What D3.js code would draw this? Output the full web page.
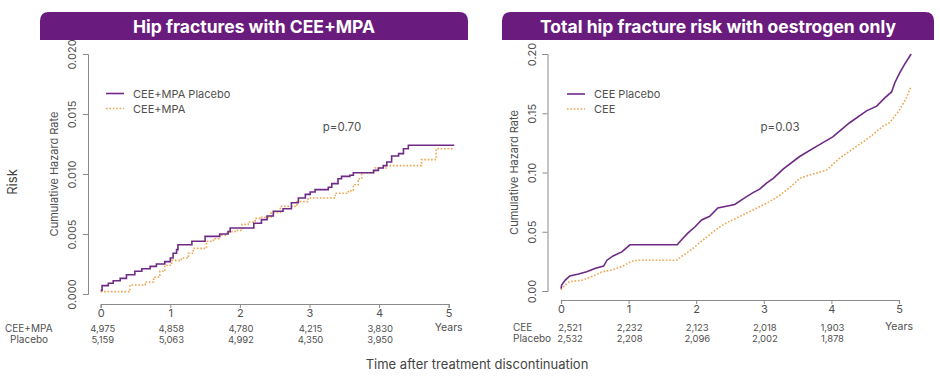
<!DOCTYPE html>
<html>
<head>
<meta charset="utf-8">
<script src="https://cdn.jsdelivr.net/npm/d3@7"></script>
<style>
  body { margin: 0; background: #fff; }
  svg { display: block; font-family: Inter, "Noto Sans", sans-serif; }
</style>
</head>
<body>
<svg id="chart" width="940" height="390"></svg>
<script>
// ---------------- DATA ----------------
const yearTicks = [0, 1, 2, 3, 4, 5];
const leftTitle = "Hip fractures with CEE+MPA";
const rightTitle = "Total hip fracture risk with oestrogen only";
const leftYTicks = [0, 0.005, 0.01, 0.015, 0.02];
const rightYTicks = [0, 0.05, 0.1, 0.15, 0.2];
const leftLegend = ["CEE+MPA Placebo", "CEE+MPA"];
const rightLegend = ["CEE Placebo", "CEE"];
const leftPValue = "p=0.70";
const rightPValue = "p=0.03";
const leftRowLabels = ["CEE+MPA", "Placebo"];
const rightRowLabels = ["CEE", "Placebo"];
const leftAtRiskTreat = ["4,975", "4,858", "4,780", "4,215", "3,830"];
const leftAtRiskPlacebo = ["5,159", "5,063", "4,992", "4,350", "3,950"];
const rightAtRiskTreat = ["2,521", "2,232", "2,123", "2,018", "1,903"];
const rightAtRiskPlacebo = ["2,532", "2,208", "2,096", "2,002", "1,878"];

// [years, cumulative hazard]
const leftPlacebo = [
  [0, 0.0003], [0.02, 0.0007], [0.11, 0.0009], [0.18, 0.0011], [0.28, 0.0013], [0.37, 0.0016],
  [0.49, 0.0019], [0.59, 0.0021], [0.71, 0.0023], [0.80, 0.0025], [0.92, 0.0027], [1.0, 0.0030],
  [1.04, 0.0034], [1.09, 0.0037], [1.11, 0.0041], [1.31, 0.0044], [1.50, 0.0048], [1.71, 0.0050],
  [1.83, 0.0052], [1.86, 0.0055], [2.20, 0.0059], [2.31, 0.0062], [2.39, 0.0065], [2.48, 0.0069],
  [2.62, 0.0071], [2.74, 0.0076], [2.84, 0.0080], [2.94, 0.0083], [3.01, 0.0085], [3.08, 0.0087],
  [3.27, 0.0089], [3.32, 0.0092], [3.41, 0.0096], [3.46, 0.0098], [3.58, 0.0099], [3.63, 0.0101],
  [3.92, 0.0103], [3.99, 0.0105], [4.06, 0.0107], [4.11, 0.0110], [4.18, 0.0115], [4.28, 0.0117],
  [4.35, 0.0121], [4.42, 0.0124], [5.08, 0.0124]
];
const leftTreat = [
  [0, 0.0002], [0.42, 0.00075], [0.64, 0.0010], [0.76, 0.0014], [0.85, 0.0019], [0.92, 0.0024],
  [1.02, 0.0028], [1.16, 0.0030], [1.26, 0.0034], [1.33, 0.0038], [1.52, 0.0044], [1.62, 0.0046],
  [1.71, 0.0049], [1.81, 0.0052], [1.93, 0.0053], [2.03, 0.0058], [2.12, 0.0060], [2.22, 0.0063],
  [2.31, 0.0064], [2.45, 0.0068], [2.58, 0.0073], [2.82, 0.0077], [2.98, 0.0080], [3.37, 0.0084],
  [3.56, 0.0086], [3.63, 0.0091], [3.70, 0.0096], [3.75, 0.0101], [3.94, 0.0105], [4.11, 0.0107],
  [4.61, 0.0112], [4.82, 0.0121], [5.08, 0.0121]
];
const rightPlacebo = [
  [0, 0.002], [0.01, 0.005], [0.06, 0.009], [0.13, 0.0127], [0.26, 0.0144], [0.38, 0.0163],
  [0.50, 0.019], [0.63, 0.021], [0.68, 0.026], [0.77, 0.0296], [0.90, 0.033], [1.02, 0.039],
  [1.72, 0.039], [1.78, 0.043], [1.88, 0.049], [1.98, 0.054], [2.08, 0.060], [2.20, 0.063],
  [2.32, 0.070], [2.57, 0.073], [2.70, 0.078], [2.84, 0.083], [2.94, 0.086], [3.04, 0.091],
  [3.14, 0.095], [3.29, 0.103], [3.53, 0.1135], [3.78, 0.122], [4.02, 0.130], [4.27, 0.142],
  [4.52, 0.152], [4.67, 0.156], [4.79, 0.163], [4.89, 0.168], [4.94, 0.176], [5.01, 0.184],
  [5.08, 0.191], [5.18, 0.200]
];
const rightTreat = [
  [0, 0.001], [0.06, 0.005], [0.13, 0.008], [0.31, 0.009], [0.45, 0.012], [0.60, 0.016],
  [0.77, 0.018], [0.90, 0.0205], [1.04, 0.025], [1.14, 0.026], [1.71, 0.026], [1.78, 0.029],
  [1.93, 0.035], [2.08, 0.042], [2.23, 0.049], [2.37, 0.055], [2.50, 0.059], [2.65, 0.063],
  [2.79, 0.067], [3.04, 0.074], [3.19, 0.079], [3.38, 0.087], [3.53, 0.095], [3.68, 0.098],
  [3.93, 0.102], [4.12, 0.112], [4.37, 0.122], [4.57, 0.130], [4.76, 0.139], [4.86, 0.142],
  [5.01, 0.153], [5.11, 0.163], [5.18, 0.173]
];

// ---------------- STYLE ----------------
const PURPLE_BANNER = "#6a1b7e";
const PURPLE_LINE = "#6e2a86";
const ORANGE_LINE = "#eea54f";
const AXIS = "#8a8a8a";
const TEXT = "#505050";

const svg = d3.select("#chart");

function roundedTopRect(x0, y0, x1, y1, r) {
  return `M${x0},${y1} L${x0},${y0 + r} Q${x0},${y0} ${x0 + r},${y0} L${x1 - r},${y0} Q${x1},${y0} ${x1},${y0 + r} L${x1},${y1} Z`;
}

function drawPanel(cfg) {
  const g = svg.append("g");
  // banner
  g.append("path").attr("d", roundedTopRect(cfg.banner[0], 12, cfg.banner[1], 40, 9))
    .attr("fill", PURPLE_BANNER);
  g.append("text").attr("x", (cfg.banner[0] + cfg.banner[1]) / 2).attr("y", 32.5)
    .attr("text-anchor", "middle").attr("fill", "#fff")
    .attr("font-size", 17.5).attr("font-weight", 700).text(cfg.title);

  const x = d3.scaleLinear().domain([0, 5]).range(cfg.xRange);
  const y = d3.scaleLinear().domain(cfg.yDomain).range(cfg.yRange);

  // y axis
  const yAxis = d3.axisLeft(y).tickValues(cfg.yTicks).tickSize(5).tickFormat(cfg.yFmt);
  const ya = g.append("g").attr("transform", `translate(${cfg.yAxisX},0)`).call(yAxis);
  ya.select(".domain").attr("stroke", AXIS);
  ya.selectAll(".tick line").attr("stroke", AXIS);
  ya.selectAll(".tick text").attr("fill", TEXT).attr("font-size", 11)
    .attr("font-family", "Inter, sans-serif")
    .attr("text-anchor", "middle").attr("dy", "0")
    .attr("transform", "translate(-12,0) rotate(-90)").attr("x", 0).attr("y", 0);

  // y title
  g.append("text").attr("transform", `translate(${cfg.yTitleX},${(cfg.yRange[0] + cfg.yRange[1]) / 2}) rotate(-90)`)
    .attr("text-anchor", "middle").attr("fill", TEXT).attr("font-size", 11)
    .text("Cumulative Hazard Rate");

  // x axis
  const xAxis = d3.axisBottom(x).tickValues(yearTicks).tickSize(4).tickPadding(1).tickFormat(d3.format("d"));
  const xa = g.append("g").attr("transform", `translate(0,${cfg.xAxisY})`).call(xAxis);
  xa.select(".domain").attr("stroke", AXIS).attr("stroke-width", 1.2);
  xa.selectAll(".tick line").attr("stroke", AXIS);
  xa.selectAll(".tick text").attr("fill", TEXT).attr("font-size", 11).attr("font-family", "Inter, sans-serif");

  g.append("text").attr("x", x(5)).attr("y", cfg.yearsY).attr("text-anchor", "middle")
    .attr("fill", TEXT).attr("font-size", 10.5).text("Years");

  // risk table
  const rows = [cfg.atRiskTreat, cfg.atRiskPlacebo];
  rows.forEach((row, ri) => {
    const ry = cfg.tableY + ri * 11;
    g.append("text").attr("x", cfg.rowLabelX[ri]).attr("y", ry).attr("fill", TEXT)
      .attr("font-size", 10).text(cfg.rowLabels[ri]);
    g.selectAll(null).data(row).enter().append("text")
      .attr("x", (d, i) => x(yearTicks[i]) + (i === 0 ? cfg.firstColOffset : 1))
      .attr("y", ry).attr("text-anchor", "middle").attr("fill", TEXT)
      .attr("font-size", 9.5).attr("letter-spacing", -0.1).text(d => d);
  });

  // lines
  const line = d3.line().x(d => x(d[0])).y(d => y(d[1])).curve(cfg.curve);
  g.append("path").datum(cfg.treat).attr("d", line).attr("fill", "none")
    .attr("stroke", ORANGE_LINE).attr("stroke-width", 1.6).attr("stroke-dasharray", "1.6,1.8");
  g.append("path").datum(cfg.placebo).attr("d", line).attr("fill", "none")
    .attr("stroke", PURPLE_LINE).attr("stroke-width", 1.6);

  // legend
  const lg = g.append("g");
  [[PURPLE_LINE, null], [ORANGE_LINE, "1.6,1.8"]].forEach((s, i) => {
    const ly = cfg.legendY + i * 15;
    lg.append("line").attr("x1", cfg.legendX).attr("x2", cfg.legendX + 18)
      .attr("y1", ly).attr("y2", ly).attr("stroke", s[0]).attr("stroke-width", 1.6)
      .attr("stroke-dasharray", s[1]);
    lg.append("text").attr("x", cfg.legendX + 27).attr("y", ly + 4).attr("fill", TEXT)
      .attr("font-size", 11).text(cfg.legend[i]);
  });

  // p value
  g.append("text").attr("x", cfg.pPos[0]).attr("y", cfg.pPos[1]).attr("text-anchor", "middle")
    .attr("fill", TEXT).attr("font-size", 11.5).text(cfg.pValue);
}

drawPanel({
  banner: [40, 468], title: leftTitle,
  xRange: [100.7, 448.7], yDomain: [0, 0.02], yRange: [294, 54],
  yTicks: leftYTicks, yFmt: d3.format(".3f"), yAxisX: 88, yTitleX: 58,
  xAxisY: 304, yearsY: 331, tableY: 332, rowLabels: leftRowLabels, rowLabelX: [5, 10], firstColOffset: 2,
  atRiskTreat: leftAtRiskTreat, atRiskPlacebo: leftAtRiskPlacebo,
  placebo: leftPlacebo, treat: leftTreat, curve: d3.curveStepAfter,
  legend: leftLegend, legendX: 106, legendY: 93.5, pValue: leftPValue, pPos: [342, 131]
});

drawPanel({
  banner: [502, 934], title: rightTitle,
  xRange: [561, 899], yDomain: [0, 0.2], yRange: [291, 54],
  yTicks: rightYTicks, yFmt: d3.format(".2f"), yAxisX: 547.5, yTitleX: 518,
  xAxisY: 300, yearsY: 330, tableY: 331, rowLabels: rightRowLabels, rowLabelX: [513, 513], firstColOffset: 9,
  atRiskTreat: rightAtRiskTreat, atRiskPlacebo: rightAtRiskPlacebo,
  placebo: rightPlacebo, treat: rightTreat, curve: d3.curveLinear,
  legend: rightLegend, legendX: 567, legendY: 94, pValue: rightPValue, pPos: [780, 131]
});

// shared labels
svg.append("text").attr("transform", "translate(17,182) rotate(-90)").attr("text-anchor", "middle")
  .attr("fill", "#444").attr("font-size", 13).text("Risk");
svg.append("text").attr("x", 477).attr("y", 369).attr("text-anchor", "middle")
  .attr("fill", "#444").attr("font-size", 13).text("Time after treatment discontinuation");
</script>
</body>
</html>
